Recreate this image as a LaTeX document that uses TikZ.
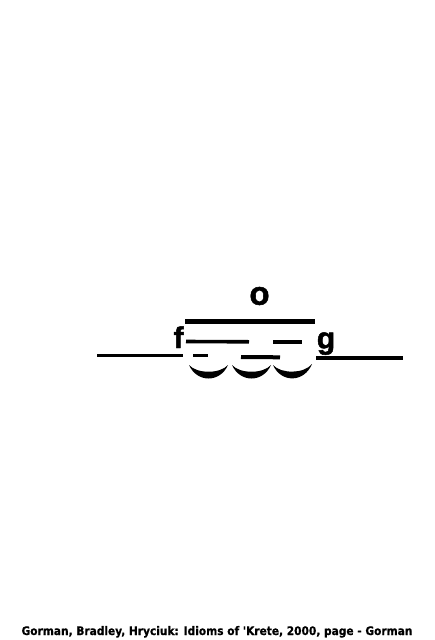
\documentclass[tikz,border=0pt]{standalone}
\usepackage{fontspec}
\setmainfont{Liberation Sans}
\newfontfamily\heavyfont[BoldFeatures={FakeBold=1.6}]{Liberation Sans}
\newfontfamily\footfont[BoldFeatures={FakeBold=0.6}]{DejaVu Sans Condensed}
\usetikzlibrary{positioning}

\begin{document}
\begin{tikzpicture}[x=1pt,y=-1pt,
				letter/.style={inner sep=0pt,font=\heavyfont\fontsize{30}{30}\selectfont\bfseries},
				bar/.style={line width=3.6pt},
				cup/.style={fill=black,draw=none}
			]
			\useasboundingbox (0,0) rectangle (435,640);
			\node[letter,font=\heavyfont\fontsize{33}{33}\selectfont\bfseries] (o) at (259.5,296) {o};
			\node[letter,anchor=base] (f) at (178.5,348) {f};
			\node[letter,anchor=base] (g) at (326,348.5) {g};
			\draw[bar,line width=4.6pt] (185,321.5) -- (315,321.5);
			\draw[bar] (186,341.5) -- (249,341.8);
			\draw[bar] (273,342) -- (302,342);
			\draw[bar] (97,355.6) -- (183,355.6);
			\draw[bar] (316,358) -- (403,358);
			\draw[bar] (193,355.5) -- (208,355.5);
			\draw[bar,line width=4pt] (241,357) -- (280,357.3);
			\fill[cup] (189,365) .. controls (197,383) and (220,383) .. (228,365)
				.. controls (220,374) and (197,374) .. (189,365) -- cycle;
			\fill[cup] (232,365) .. controls (240,383) and (263,383) .. (271,365)
				.. controls (263,374) and (240,374) .. (232,365) -- cycle;
			\fill[cup] (273,365) .. controls (281,383) and (304,383) .. (312,364)
				.. controls (304,374) and (281,374) .. (273,365) -- cycle;
			\node[inner sep=0pt,anchor=base,font=\footfont\fontsize{11.8}{12}\selectfont\bfseries] (foot) at (217,635) {Gorman, Bradley, Hryciuk: Idioms of 'Krete, 2000, page - Gorman};
			\end{tikzpicture}
\end{document}
